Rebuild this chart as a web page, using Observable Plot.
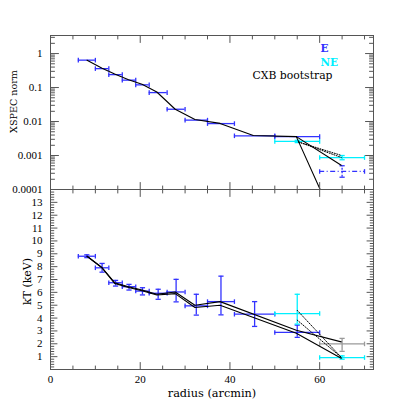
<!DOCTYPE html>
<html><head><meta charset="utf-8">
<script src="https://cdn.jsdelivr.net/npm/d3@7"></script>
<script src="https://cdn.jsdelivr.net/npm/@observablehq/plot@0.6"></script>
<style>body{margin:0;background:#fff} #chart svg{display:block}</style>
</head><body><div id="chart"></div>
<script>
// ---------- data ----------
const binLo  = [6.2, 10, 13, 16, 19, 22, 26, 30, 35, 41, 50];
const binHi  = [10, 13, 16, 19, 22, 26, 30, 35, 41, 50, 60];
const binMid = [8.1, 11.5, 14.5, 17.5, 20.5, 24, 28, 32.5, 38, 45.5, 55];
const normE  = [0.64, 0.36, 0.24, 0.165, 0.12, 0.071, 0.023, 0.011, 0.0087, 0.0038, 0.0036];
const kTE    = [8.81, 7.91, 6.75, 6.44, 6.1, 5.93, 6.03, 4.95, 5.28, 4.3, 2.88];
const kTELo  = [8.7, 7.57, 6.49, 6.18, 5.8, 5.46, 5.26, 4.23, 4.25, 3.35, 2.5];
const kTEHi  = [8.92, 8.25, 6.93, 6.62, 6.36, 6.24, 7.01, 5.85, 7.26, 5.28, 3.45];

// outer E bin (dash-dot, norm only)
const outLo = [60], outHi = [70], outMid = [65];
const normEOut = [0.00034], normEOutLo = [0.00023], normEOutHi = [0.0005];

// NE
const neLo = [50, 60], neHi = [60, 70], neMid = [55, 65];
const normNE = [0.0026, 0.00087], normNELo = [0.0024, 0.00075], normNEHi = [0.0028, 0.001];
const kTNE = [4.35, 0.93], kTNELo = [3.53, 0.8], kTNEHi = [5.85, 1.06];

// CXB bootstrap (grey)
const cxbLo = [60], cxbHi = [70], cxbMid = [65];
const kTCXB = [1.99], kTCXBLo = [1.41], kTCXBHi = [2.42];

// model curves
const modX    = [8.15, 11.5, 14.3, 17.4, 20.4, 23.7, 27.8, 32.2, 37.8, 45.2, 54.8];
const modNorm = [0.64, 0.37, 0.25, 0.17, 0.125, 0.074, 0.023, 0.0115, 0.0088, 0.0039, 0.0036];
const tailAX = [54.8, 64.8], tailANorm = [0.0036, 0.00052];
const tailBX = [54.8, 60.3], tailBNorm = [0.0036, 0.000088];
const dotNX = [55.3, 64.8], dotN1 = [0.0025, 0.00101], dotN2 = [0.0025, 0.00088];

const kX  = [8.15, 11.5, 14.3, 17.4, 20.4, 23.7, 27.8, 32.2, 37.8, 54.8, 64.8];
const kTA = [8.81, 7.91, 6.75, 6.44, 6.18, 5.85, 6.03, 5.0, 5.28, 3.05, 2.15];
const kTB = [8.81, 7.91, 6.7, 6.38, 6.12, 5.8, 5.9, 4.82, 5.0, 2.82, 0.87];
const dotKX = [55, 64.8], dotK1 = [4.6, 0.95], dotK2 = [3.84, 0.95];

// ticks
const xMajor = [0, 20, 40, 60];
const xMinor = [5, 10, 15, 25, 30, 35, 45, 50, 55, 65, 70];
const xTickLabels = ["0", "20", "40", "60"];
const normMajor = [0.0001, 0.001, 0.01, 0.1, 1];
const normTickLabels = ["0.0001", "0.001", "0.01", "0.1", "1"];
const normMinor = [];
for (const dec of [0.0001, 0.001, 0.01, 0.1, 1]) for (const m of [2,3,4,5,6,7,8,9]) if (dec*m < 3.4) normMinor.push(dec*m);
const kMajor = [1,2,3,4,5,6,7,8,9,10,11,12,13];
const kTickLabels = kMajor.map(String);
const kMinor = d3.range(0.2, 14, 0.2).filter(v => Math.abs(v - Math.round(v)) > 1e-6);

// legend
const legendText = ["E", "NE", "CXB bootstrap"];

// ---------- styling ----------
const BLUE = "#3232ff", CYAN = "#00f0ff", GREY = "#9a9a9a", AX = "#555";
const W = 407, ML = 50, MR = 34;
const tickShape = {draw(ctx, l) { ctx.moveTo(0, 0); ctx.lineTo(0, -l); }};
const vbar = {draw(ctx, size) { const r = Math.sqrt(size / Math.PI); ctx.moveTo(0, -r); ctx.lineTo(0, r); }};
const hbar = {draw(ctx, size) { const r = Math.sqrt(size / Math.PI); ctx.moveTo(-r, 0); ctx.lineTo(r, 0); }};

function xTicks(vals, len, anchor) {
  return Plot.vector(vals, {x: d => d, frameAnchor: anchor, length: len, anchor: "start",
    rotate: anchor === "bottom" ? 0 : 180, shape: tickShape, stroke: AX, strokeWidth: 1});
}
function yTicks(vals, len, anchor) {
  return Plot.vector(vals, {y: d => d, frameAnchor: anchor, length: len, anchor: "start",
    rotate: anchor === "left" ? 90 : -90, shape: tickShape, stroke: AX, strokeWidth: 1});
}
function xErr(lo, hi, mid, v, color, extra = {}) {
  const rows = mid.map((m, i) => ({lo: lo[i], hi: hi[i], v: v[i]}));
  return [
    Plot.ruleY(rows, {y: "v", x1: "lo", x2: "hi", stroke: color, strokeWidth: 1.3, ...extra}),
    Plot.dot(rows, {x: "lo", y: "v", symbol: vbar, r: 2.3, stroke: color, fill: "none", strokeWidth: 1.3}),
    Plot.dot(rows, {x: "hi", y: "v", symbol: vbar, r: 2.3, stroke: color, fill: "none", strokeWidth: 1.3})
  ];
}
function yErr(mid, lo, hi, color, extra = {}) {
  const rows = mid.map((m, i) => ({m, lo: lo[i], hi: hi[i]}));
  return [
    Plot.ruleX(rows, {x: "m", y1: "lo", y2: "hi", stroke: color, strokeWidth: 1.3, ...extra}),
    Plot.dot(rows, {x: "m", y: "lo", symbol: hbar, r: 2.6, stroke: color, fill: "none", strokeWidth: 1.3}),
    Plot.dot(rows, {x: "m", y: "hi", symbol: hbar, r: 2.6, stroke: color, fill: "none", strokeWidth: 1.3})
  ];
}
const pts = (xs, ys) => xs.map((x, i) => [x, ys[i]]);
const style = {fontFamily: "Liberation Serif", fontSize: "11px", overflow: "visible", background: "transparent", color: "#000"};

// ---------- top panel ----------
const topPlot = Plot.plot({
  width: W, height: 189, marginLeft: ML, marginRight: MR, marginTop: 35, marginBottom: 0,
  style,
  x: {domain: [0, 72], axis: null},
  y: {type: "log", domain: [0.0001, 3.4], axis: null},
  marks: [
    ...xErr(binLo, binHi, binMid, normE, BLUE),
    ...xErr(neLo, neHi, neMid, normNE, CYAN),
    ...yErr(neMid, normNELo, normNEHi, CYAN),
    ...xErr(outLo, outHi, outMid, normEOut, BLUE, {strokeDasharray: "5,2.5,1,2.5"}),
    ...yErr(outMid, normEOutLo, normEOutHi, BLUE, {strokeDasharray: "2,1.5"}),
    Plot.line(pts(modX, modNorm), {stroke: "#000", strokeWidth: 1.1, clip: true}),
    Plot.line(pts(tailAX, tailANorm), {stroke: "#000", strokeWidth: 1.1, clip: true}),
    Plot.line(pts(tailBX, tailBNorm), {stroke: "#000", strokeWidth: 1.1, clip: true}),
    Plot.line(pts(dotNX, dotN1), {stroke: "#000", strokeWidth: 1, strokeDasharray: "1,1.5", clip: true}),
    Plot.line(pts(dotNX, dotN2), {stroke: "#000", strokeWidth: 1, strokeDasharray: "1,1.5", clip: true}),
    Plot.frame({stroke: AX, strokeWidth: 1}),
    xTicks(xMajor, 7, "bottom"), xTicks(xMinor, 3.5, "bottom"),
    xTicks(xMajor, 7, "top"), xTicks(xMinor, 3.5, "top"),
    yTicks(normMajor, 8, "left"), yTicks(normMinor, 4, "left"),
    yTicks(normMajor, 8, "right"), yTicks(normMinor, 4, "right"),
    Plot.text(normMajor, {y: d => d, text: (d, i) => normTickLabels[i], frameAnchor: "left", dx: -8, textAnchor: "end"}),
    Plot.text(["XSPEC norm"], {frameAnchor: "left", dx: -36.5, dy: -11, rotate: -90, textAnchor: "middle", lineAnchor: "middle", text: d => d, fontFamily: "DejaVu Serif", fontSize: 9.6}),
    Plot.text([legendText[0]], {frameAnchor: "top-right", dx: -53, dy: 16, lineAnchor: "bottom", textAnchor: "start", text: d => d, fill: BLUE, fontWeight: "bold", fontFamily: "DejaVu Serif", fontSize: 10.5}),
    Plot.text([legendText[1]], {frameAnchor: "top-right", dx: -53, dy: 30, lineAnchor: "bottom", textAnchor: "start", text: d => d, fill: CYAN, fontWeight: "bold", fontFamily: "DejaVu Serif", fontSize: 10.5}),
    Plot.text([legendText[2]], {frameAnchor: "top-right", dx: -41, dy: 43, lineAnchor: "bottom", textAnchor: "end", text: d => d, fill: "#000", fontFamily: "DejaVu Serif", fontSize: 10.8})
  ]
});

// ---------- bottom panel ----------
const bottomPlot = Plot.plot({
  width: W, height: 218, marginLeft: ML, marginRight: MR, marginTop: 0, marginBottom: 38,
  style,
  x: {domain: [0, 72], axis: null},
  y: {domain: [0, 14], axis: null},
  marks: [
    ...xErr(binLo, binHi, binMid, kTE, BLUE),
    ...yErr(binMid, kTELo, kTEHi, BLUE),
    ...xErr(neLo, neHi, neMid, kTNE, CYAN),
    ...yErr(neMid, kTNELo, kTNEHi, CYAN),
    ...xErr(cxbLo, cxbHi, cxbMid, kTCXB, GREY),
    ...yErr(cxbMid, kTCXBLo, kTCXBHi, GREY),
    Plot.line(pts(kX, kTA), {stroke: "#000", strokeWidth: 1.1, clip: true}),
    Plot.line(pts(kX, kTB), {stroke: "#000", strokeWidth: 1.1, clip: true}),
    Plot.line(pts(dotKX, dotK1), {stroke: "#000", strokeWidth: 1, strokeDasharray: "1,1.5", clip: true}),
    Plot.line(pts(dotKX, dotK2), {stroke: "#000", strokeWidth: 1, strokeDasharray: "1,1.5", clip: true}),
    Plot.frame({stroke: AX, strokeWidth: 1}),
    xTicks(xMajor, 7, "bottom"), xTicks(xMinor, 3.5, "bottom"),
    xTicks(xMajor, 7, "top"), xTicks(xMinor, 3.5, "top"),
    yTicks(kMajor, 6.5, "left"), yTicks(kMinor, 3.3, "left"),
    yTicks(kMajor, 6.5, "right"), yTicks(kMinor, 3.3, "right"),
    Plot.text(kMajor, {y: d => d, text: (d, i) => kTickLabels[i], frameAnchor: "left", dx: -8, textAnchor: "end"}),
    Plot.text(xMajor, {x: d => d, text: (d, i) => xTickLabels[i], frameAnchor: "bottom", dy: 10, lineAnchor: "middle", textAnchor: "middle"}),
    Plot.text(["kT (keV)"], {frameAnchor: "left", dx: -23.5, dy: 2, rotate: -90, textAnchor: "middle", lineAnchor: "middle", text: d => d, fontFamily: "DejaVu Serif", fontSize: 11}),
    Plot.text(["radius (arcmin)"], {frameAnchor: "bottom", dy: 24, lineAnchor: "middle", textAnchor: "middle", text: d => d, fontFamily: "DejaVu Serif", fontSize: 11.3})
  ]
});

document.getElementById("chart").append(topPlot, bottomPlot);
</script>
</body></html>
